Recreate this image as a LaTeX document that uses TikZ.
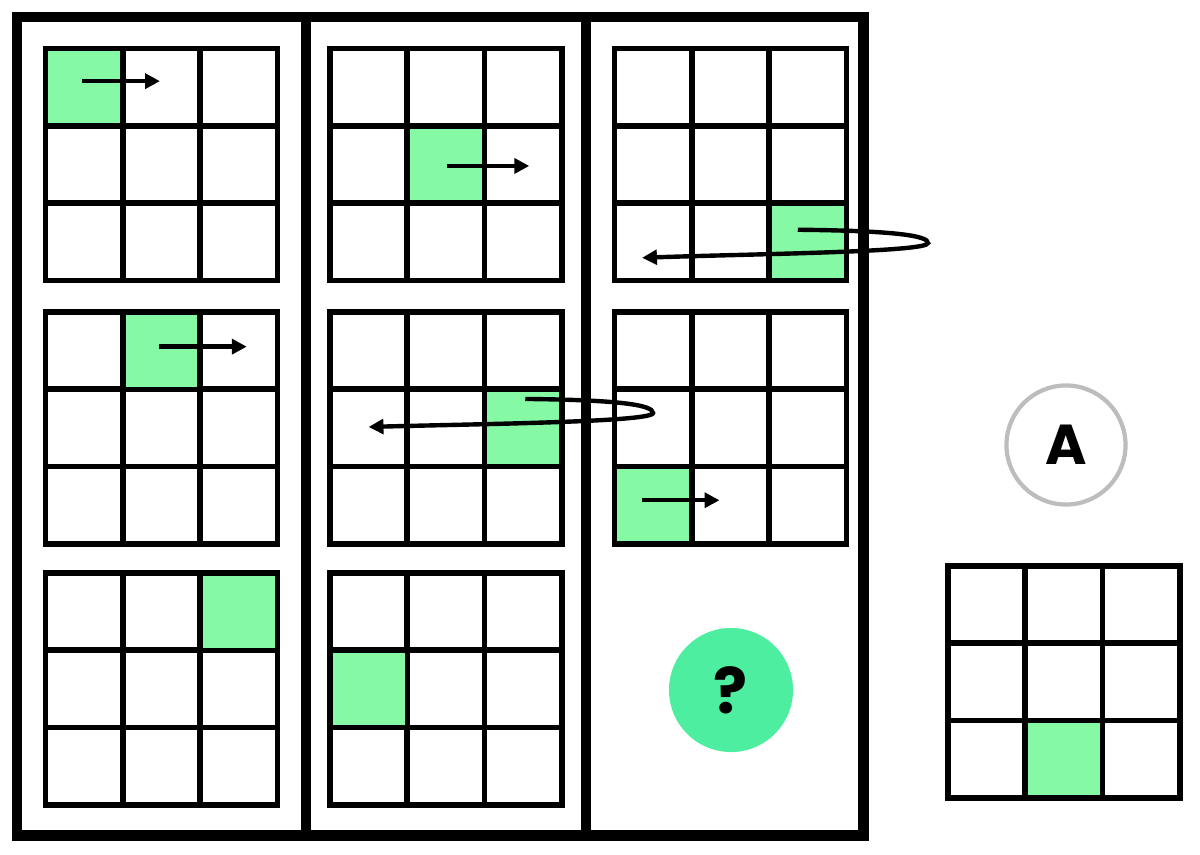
\documentclass[tikz,border=0pt]{standalone}
\usepackage{fontspec}
\usetikzlibrary{arrows.meta, positioning, calc}
\newfontfamily\puzfont{Poppins}
\definecolor{cellgreen}{HTML}{86F9A4}
\definecolor{askgreen}{HTML}{4DEEA0}
\definecolor{ringgray}{HTML}{BDBDBD}
\newcommand{\puzgrid}[5]{%
  \foreach \i in {0,1,2}{\foreach \j in {0,1,2}{
    \node[cell] (#1-\i\j) at ({#2+77.3*(\j+0.5)},{#3+77.3*(\i+0.5)}) {};}}
  \node[cell, fill=cellgreen] (#1-#4#5) at ({#2+77.3*(#5+0.5)},{#3+77.3*(#4+0.5)}) {};
}

\begin{document}
\begin{tikzpicture}[x=0.01cm, y=-0.01cm, line join=miter,
    cell/.style={draw, line width=1.6pt, minimum size=0.773cm, inner sep=0pt, outer sep=0pt},
    frame/.style={line width=3pt},
    move/.style={-{Triangle[length=4.2pt, width=4.2pt]}, line width=1.25pt},
    ask/.style={circle, fill=askgreen, minimum size=1.24cm, inner sep=0pt, font=\puzfont\bfseries\fontsize{18}{18}\selectfont},
    opt/.style={circle, draw=ringgray, line width=1.2pt, minimum size=1.19cm, inner sep=0pt, font=\puzfont\bfseries\fontsize{16}{16}\selectfont}]
  \useasboundingbox (0,0) rectangle (1200,855);

  % Paneles
  \draw[frame] (17,17) rectangle (863.5,835.5);
  \draw[frame] (306,17) -- (306,835.5);
  \draw[frame] (586,17) -- (586,835.5);

  % Cuadriculas
  \puzgrid{p1a}{45.5}{48.5}{0}{0}
  \puzgrid{p1b}{45.5}{312}{0}{1}
  \puzgrid{p1c}{45.5}{573}{0}{2}
  \puzgrid{p2a}{330}{48.5}{1}{1}
  \puzgrid{p2b}{330}{312}{1}{2}
  \puzgrid{p2c}{330}{573}{1}{0}
  \puzgrid{p3a}{614.5}{48.5}{2}{2}
  \puzgrid{p3b}{614.5}{312}{2}{0}

  % Movimientos
  \draw[move] ($(p1a-00)+(-2,-6)$) -- ($(p1a-01)+(-1.5,-6)$);
  \draw[move] ($(p1b-01)+(-2,-4)$) -- ($(p1b-02)+(8,-4)$);
  \draw[move] ($(p2a-11)+(1,1.5)$) -- ($(p2a-12)+(6,1.5)$);
  \draw[move] ($(p3b-20)+(-11,-5)$) -- ($(p3b-21)+(-11,-5)$);
  \coordinate (turn1) at (928,243);
  \draw[move] ($(p3a-22)+(-10,-12)$) .. controls +(100,1) and +(0,-7) .. (turn1)
    .. controls +(0,9) and +(120,-4) .. ($(p3a-20)+(-11,16)$);
  \coordinate (turn2) at (653,413);
  \draw[move] ($(p2b-12)+(2,-29)$) .. controls +(95,1) and +(0,-8) .. (turn2)
    .. controls +(0,9) and +(112,-3) .. ($(p2b-10)+(0,-1)$);

  % Pregunta y opcion
  \node[ask] (q) at (731,690) {?};
  \node[opt] (optA) at (1066,445) {A};
  \puzgrid{ans}{948}{566}{2}{1}
\end{tikzpicture}
\end{document}
